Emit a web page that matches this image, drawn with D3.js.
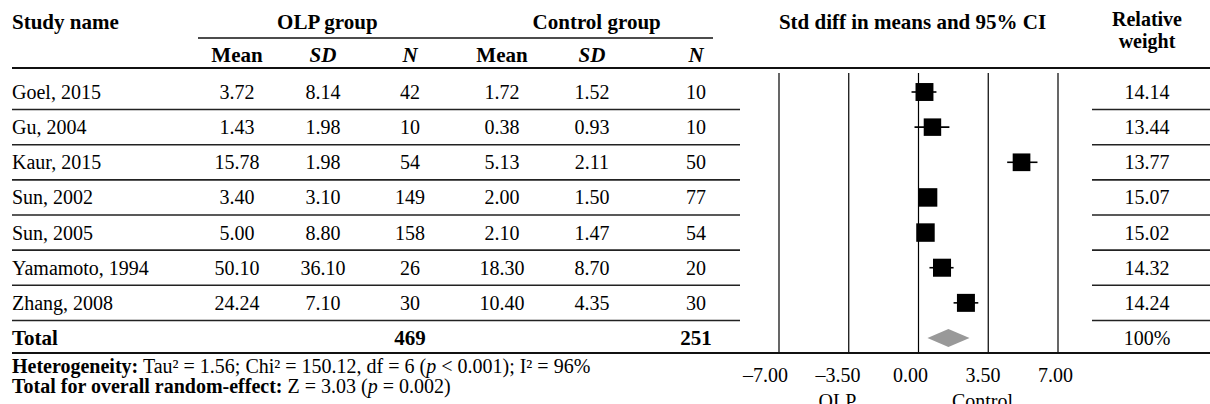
<!DOCTYPE html>
<html>
<head>
<meta charset="utf-8">
<script src="https://cdn.jsdelivr.net/npm/d3@7"></script>
<style>
  html, body { margin: 0; padding: 0; background: #fff; }
  svg { display: block; font-family: "Liberation Serif", "Times New Roman", serif; }
</style>
</head>
<body>
<svg id="chart" width="1210" height="404"></svg>
<script>
// ---- data ----
const studies   = ["Goel, 2015", "Gu, 2004", "Kaur, 2015", "Sun, 2002", "Sun, 2005", "Yamamoto, 1994", "Zhang, 2008"];
const olpMean   = ["3.72", "1.43", "15.78", "3.40", "5.00", "50.10", "24.24"];
const olpSD     = ["8.14", "1.98", "1.98", "3.10", "8.80", "36.10", "7.10"];
const olpN      = [42, 10, 54, 149, 158, 26, 30];
const ctrlMean  = ["1.72", "0.38", "5.13", "2.00", "2.10", "18.30", "10.40"];
const ctrlSD    = ["1.52", "0.93", "2.11", "1.50", "1.47", "8.70", "4.35"];
const ctrlN     = [10, 10, 50, 77, 54, 20, 30];
const smd       = [0.30, 0.70, 5.17, 0.48, 0.35, 1.18, 2.38];
const ciLow     = [-0.35, -0.20, 4.45, 0.20, 0.05, 0.55, 1.76];
const ciHigh    = [0.90, 1.55, 5.97, 0.76, 0.65, 1.76, 3.00];
const weights   = ["14.14", "13.44", "13.77", "15.07", "15.02", "14.32", "14.24"];
const pooled    = [0.45, 1.50, 2.56];          // lower CI, estimate, upper CI
const tickValues = [-7, -3.5, 0, 3.5, 7];
const tickLabels = ["\u20137.00", "\u20133.50", "0.00", "3.50", "7.00"];
const favours   = ["OLP", "Control"];

// ---- layout ----
const svg = d3.select("#chart");
const W = 1210;
const FS = 20;

const rowKeys = studies.concat(["Total"]);
const y = d3.scalePoint().domain(rowKeys).range([92, 338]);
const half = y.step() / 2;

const x = d3.scaleLinear().domain([-7, 7]).range([779, 1058]);
const xLab = d3.scaleLinear().domain([-7, 7]).range([765, 1055]);
const size = d3.scaleSqrt().domain([0, d3.max(weights, Number)]).range([0, 18.5]);

const colX = { study: 12, m1: 237, s1: 323, n1: 410, m2: 502, s2: 592, n2: 696, w: 1147 };
const tableRight = 740, weightLeft = 1092;

const text = (sel, tx, ty, str, opts = {}) => sel.append("text")
  .attr("x", tx).attr("y", ty)
  .attr("text-anchor", opts.anchor || "middle")
  .attr("font-size", opts.size || FS)
  .attr("font-weight", opts.bold ? "bold" : null)
  .attr("font-style", opts.italic ? "italic" : null)
  .attr("fill", "#000")
  .text(str);

// ---- header ----
const head = svg.append("g");
text(head, colX.study, 29, "Study name", { anchor: "start", bold: true, size: 21 });
text(head, (colX.m1 + colX.s1 + colX.n1) / 3 + 4, 29, "OLP group", { bold: true, size: 21 });
text(head, (colX.m2 + colX.s2 + colX.n2) / 3, 29, "Control group", { bold: true, size: 21 });
text(head, x(0) - 6, 29, "Std diff in means and 95% CI", { bold: true, size: 21 });
text(head, colX.w, 26, "Relative", { bold: true, size: 20 });
text(head, colX.w, 48, "weight", { bold: true, size: 20 });

[["m1", "Mean", false], ["s1", "SD", true], ["n1", "N", true],
 ["m2", "Mean", false], ["s2", "SD", true], ["n2", "N", true]].forEach(([k, lab, it]) =>
  text(head, colX[k], 62, lab, { bold: true, italic: it, size: 21 }));

head.append("line").attr("x1", 198).attr("x2", 713).attr("y1", 38).attr("y2", 38)
  .attr("stroke", "#111").attr("stroke-width", 1.5);
head.append("line").attr("x1", 12).attr("x2", W).attr("y1", 68).attr("y2", 68)
  .attr("stroke", "#111").attr("stroke-width", 2);

// ---- forest grid ----
const grid = svg.append("g");
grid.selectAll("line").data(tickValues).join("line")
  .attr("x1", d => x(d)).attr("x2", d => x(d))
  .attr("y1", 73).attr("y2", 352)
  .attr("stroke", "#000").attr("stroke-width", 1.2);

// ---- study rows ----
const rows = svg.append("g").selectAll("g").data(studies).join("g")
  .attr("transform", d => `translate(0,${y(d)})`);

rows.each(function (d, i) {
  const g = d3.select(this);
  text(g, colX.study, 7, d, { anchor: "start" });
  text(g, colX.m1, 7, olpMean[i]);
  text(g, colX.s1, 7, olpSD[i]);
  text(g, colX.n1, 7, olpN[i]);
  text(g, colX.m2, 7, ctrlMean[i]);
  text(g, colX.s2, 7, ctrlSD[i]);
  text(g, colX.n2, 7, ctrlN[i]);
  text(g, colX.w, 7, weights[i]);

  g.append("line").attr("x1", x(ciLow[i])).attr("x2", x(ciHigh[i]))
    .attr("y1", 0).attr("y2", 0).attr("stroke", "#000").attr("stroke-width", 1.6);
  const s = size(+weights[i]);
  g.append("rect").attr("x", x(smd[i]) - s / 2).attr("y", -s / 2)
    .attr("width", s).attr("height", s).attr("fill", "#000");

  // row separators (table part and weight column)
  g.append("line").attr("x1", 12).attr("x2", tableRight).attr("y1", half).attr("y2", half)
    .attr("stroke", "#222").attr("stroke-width", 1.6);
  g.append("line").attr("x1", weightLeft).attr("x2", W).attr("y1", half).attr("y2", half)
    .attr("stroke", "#222").attr("stroke-width", 1.6);
});

// ---- total row ----
const tot = svg.append("g").attr("transform", `translate(0,${y("Total")})`);
text(tot, colX.study, 7, "Total", { anchor: "start", bold: true, size: 21 });
text(tot, colX.n1, 7, d3.sum(olpN), { bold: true, size: 21 });
text(tot, colX.n2, 7, d3.sum(ctrlN), { bold: true, size: 21 });
text(tot, colX.w, 7, "100%");
tot.append("polygon")
  .attr("points", [[x(pooled[0]), 0], [x(pooled[1]), -9], [x(pooled[2]), 0], [x(pooled[1]), 9]].join(" "))
  .attr("fill", "#999");

svg.append("line").attr("x1", 12).attr("x2", W).attr("y1", 353).attr("y2", 353)
  .attr("stroke", "#111").attr("stroke-width", 2);

// ---- axis labels ----
const axis = d3.axisBottom(xLab).tickValues(tickValues)
  .tickFormat((d, i) => tickLabels[i]).tickSize(0).tickPadding(15);
const ag = svg.append("g").attr("transform", "translate(0,353)").call(axis);
ag.select(".domain").remove();
ag.selectAll("text").attr("font-size", FS).attr("fill", "#000")
  .attr("font-family", "Liberation Serif, Times New Roman, serif");

svg.append("g").selectAll("text").data(favours).join("text")
  .attr("x", (d, i) => xLab(i === 0 ? -3.5 : 3.5)).attr("y", 408)
  .attr("text-anchor", "middle").attr("font-size", FS).text(d => d);

// ---- footnotes ----
const f1 = svg.append("text").attr("x", 12).attr("y", 373).attr("font-size", FS);
f1.append("tspan").attr("font-weight", "bold").text("Heterogeneity:");
f1.append("tspan").text(" Tau\u00b2 = 1.56; Chi\u00b2 = 150.12, df = 6 (");
f1.append("tspan").attr("font-style", "italic").text("p");
f1.append("tspan").text(" < 0.001); I\u00b2 = 96%");

const f2 = svg.append("text").attr("x", 12).attr("y", 393).attr("font-size", FS);
f2.append("tspan").attr("font-weight", "bold").text("Total for overall random-effect:");
f2.append("tspan").text(" Z = 3.03 (");
f2.append("tspan").attr("font-style", "italic").text("p");
f2.append("tspan").text(" = 0.002)");
</script>
</body>
</html>
